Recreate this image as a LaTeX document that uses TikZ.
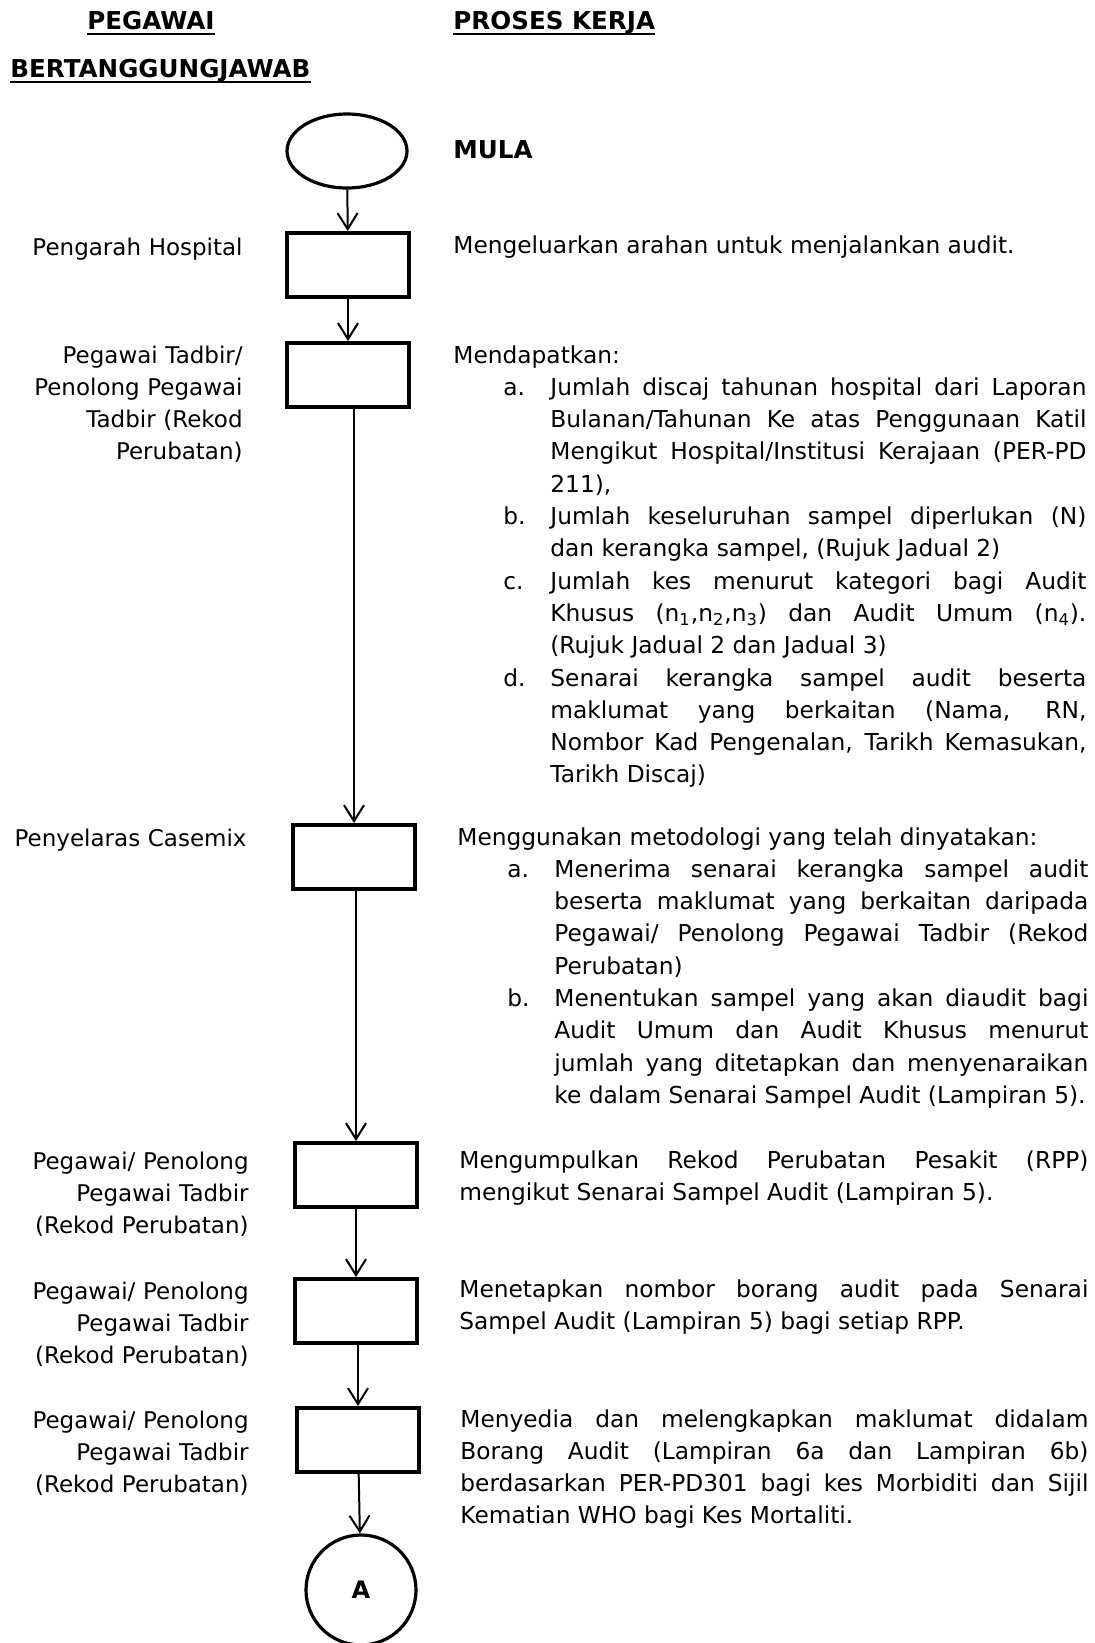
\documentclass[tikz,border=0pt]{standalone}
\usepackage{fontspec}
\setmainfont{DejaVu Sans}
\usetikzlibrary{arrows.meta,shapes.geometric}
\newcommand{\butir}[2]{\par{\leftskip=25pt\hangindent=23.5pt\hangafter=1\noindent\makebox[23.5pt][l]{#1}#2\par}}
\tikzset{
  kotak/.style={draw, line width=2pt, minimum width=61pt, minimum height=32pt, inner sep=0pt},
  mula/.style={draw, ellipse, line width=1.6pt, minimum width=60pt, minimum height=37pt},
  sambung/.style={draw, circle, line width=1.6pt, minimum size=55pt, inner sep=0pt, font=\bfseries\fontsize{12pt}{14pt}\selectfont},
  panah/.style={-{Straight Barb[length=8pt,width=10pt]}, line width=1pt},
  tajuk/.style={inner sep=0pt, font=\bfseries\fontsize{12.3pt}{14pt}\selectfont},
  garis/.style={line width=1pt},
  pegawai/.style={inner sep=0pt, align=right, text width=125pt, font=\fontsize{11.5pt}{16.15pt}\selectfont},
  proses/.style={inner sep=0pt, align=justify, font=\fontsize{11.65pt}{16.15pt}\selectfont},
}
\begin{document}
\begin{tikzpicture}[x=0.5pt,y=-0.5pt]
		%%%%% START %%%%%
		\useasboundingbox (0,0) rectangle (1094,1643);
		
		\node[tajuk, anchor=base west] (h1) at (87,30) {PEGAWAI};
		\node[tajuk, anchor=base west] (h2) at (10,78) {BERTANGGUNGJAWAB};
		\node[tajuk, anchor=base west] (h3) at (453,30) {PROSES KERJA};
		\draw[garis] ([yshift=-2.2pt]h1.base west) -- ([yshift=-2.2pt]h1.base east);
		\draw[garis] ([yshift=-2.2pt]h2.base west) -- ([yshift=-2.2pt]h2.base east);
		\draw[garis] ([yshift=-2.2pt]h3.base west) -- ([yshift=-2.2pt]h3.base east);
		
		\node[mula] (mula) at (347,151) {};
		\node[tajuk, anchor=base west] (tmula) at (453,158) {MULA};
		
		\node[kotak] (k1) at (348,265) {};
		\node[kotak] (k2) at (348,375) {};
		\node[kotak] (k3) at (354,857) {};
		\node[kotak] (k4) at (356,1175) {};
		\node[kotak] (k5) at (356,1311) {};
		\node[kotak] (k6) at (358,1440) {};
		\node[sambung] (a) at (361,1590) {A};
		
		% pegawai
		\node[pegawai, anchor=base east] (p1) at (243,255) {Pengarah Hospital};
		\node[pegawai, anchor=base east] (p2) at (243,363) {Pegawai Tadbir/\\ Penolong Pegawai\\ Tadbir (Rekod\\ Perubatan)};
		\node[pegawai, anchor=base east] (p3) at (247,846) {Penyelaras Casemix};
		\node[pegawai, anchor=base east] (p4) at (249,1169) {Pegawai/ Penolong\\ Pegawai Tadbir\\ (Rekod Perubatan)};
		\node[pegawai, anchor=base east] (p5) at (249,1299) {Pegawai/ Penolong\\ Pegawai Tadbir\\ (Rekod Perubatan)};
		\node[pegawai, anchor=base east] (p6) at (249,1428) {Pegawai/ Penolong\\ Pegawai Tadbir\\ (Rekod Perubatan)};
		
		% proses kerja
		\node[proses, text width=316.5pt, anchor=base west] (t1) at (453,253) {Mengeluarkan arahan untuk menjalankan audit.};
		\node[proses, text width=316.5pt, anchor=base west] (t2) at (453,363) {Mendapatkan:
			\butir{a.}{Jumlah discaj tahunan hospital dari Laporan\linebreak Bulanan/Tahunan Ke atas Penggunaan Katil\linebreak Mengikut Hospital/Institusi Kerajaan (PER-PD\linebreak 211),}
			\butir{b.}{Jumlah keseluruhan sampel diperlukan (N)\linebreak dan kerangka sampel, (Rujuk Jadual 2)}
			\butir{c.}{Jumlah kes menurut kategori bagi Audit\linebreak Khusus (n\textsubscript{1},n\textsubscript{2},n\textsubscript{3}) dan Audit Umum (n\textsubscript{4}).\linebreak (Rujuk Jadual 2 dan Jadual 3)}
			\butir{d.}{Senarai kerangka sampel audit beserta\linebreak maklumat yang berkaitan (Nama, RN,\linebreak Nombor Kad Pengenalan, Tarikh Kemasukan,\linebreak Tarikh Discaj)}};
		\node[proses, text width=315.5pt, anchor=base west] (t3) at (457,845) {Menggunakan metodologi yang telah dinyatakan:
			\butir{a.}{Menerima senarai kerangka sampel audit\linebreak beserta maklumat yang berkaitan daripada\linebreak Pegawai/ Penolong Pegawai Tadbir (Rekod\linebreak Perubatan)}
			\butir{b.}{Menentukan sampel yang akan diaudit bagi\linebreak Audit Umum dan Audit Khusus menurut\linebreak jumlah yang ditetapkan dan menyenaraikan\linebreak ke dalam Senarai Sampel Audit (Lampiran 5).}};
		\node[proses, text width=314.5pt, anchor=base west] (t4) at (459,1168) {Mengumpulkan Rekod Perubatan Pesakit (RPP)\linebreak mengikut Senarai Sampel Audit (Lampiran 5).};
		\node[proses, text width=314.5pt, anchor=base west] (t5) at (459,1297) {Menetapkan nombor borang audit pada Senarai\linebreak Sampel Audit (Lampiran 5) bagi setiap RPP.};
		\node[proses, text width=314pt, anchor=base west] (t6) at (460,1427) {Menyedia dan melengkapkan maklumat didalam\linebreak Borang Audit (Lampiran 6a dan Lampiran 6b)\linebreak berdasarkan PER-PD301 bagi kes Morbiditi dan Sijil\linebreak Kematian WHO bagi Kes Mortaliti.};
		
		% aliran
		\draw[panah] (mula) -- (k1);
		\draw[panah] (k1) -- (k2);
		\draw[panah] (k3.north |- k2.south) -- (k3.north);
		\draw[panah] (k4.north |- k3.south) -- (k4.north);
		\draw[panah] (k4) -- (k5);
		\draw[panah] (k6.north |- k5.south) -- (k6.north);
		\draw[panah] (k6) -- (a);
		%%%%% END %%%%%
\end{tikzpicture}
\end{document}
